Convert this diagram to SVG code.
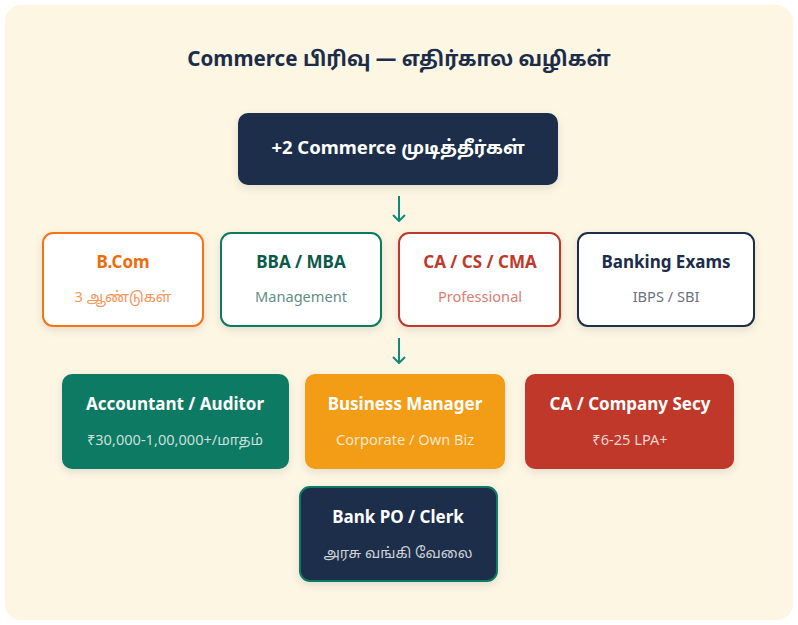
<svg xmlns="http://www.w3.org/2000/svg" width="798" height="625" viewBox="0 0 798 625">
<defs>
<filter id="sh" x="-20%" y="-20%" width="140%" height="150%">
<feDropShadow dx="0" dy="3" stdDeviation="4" flood-color="#000" flood-opacity="0.10"/>
</filter>
<marker id="ah" viewBox="0 0 8 14" refX="7" refY="7" markerWidth="8" markerHeight="14" markerUnits="userSpaceOnUse" orient="auto">
<path d="M1,1 L7,7 L1,13" fill="none" stroke="#0f8a7a" stroke-width="2"/>
</marker>
<style>
text{font-family:"Noto Sans","Noto Sans Tamil","Open Sans",sans-serif;text-anchor:middle}
.t{font-weight:700;font-size:17px}
.s{font-size:14.6px}
.w{fill:#ffffff}
.ws{fill:#ffffff;fill-opacity:0.78}
.arr{stroke:#0f8a7a;stroke-width:2;fill:none}
</style>
</defs>
<rect x="5" y="5" width="788" height="615" rx="16" fill="#fdf6e3"/>
<text x="399" y="66" font-size="20.6" font-weight="700" fill="#1c2d4a">Commerce பிரிவு — எதிர்கால வழிகள்</text>
<g id="start">
<rect x="238" y="113" width="320" height="72" rx="10" fill="#1c2d4a" filter="url(#sh)"/>
<text x="398" y="154" class="w" font-size="18.5" font-weight="700">+2 Commerce முடித்தீர்கள்</text>
</g>
<g id="connectors">
<line x1="399" y1="196" x2="399" y2="221" class="arr" marker-end="url(#ah)"/>
<line x1="399" y1="338" x2="399" y2="363" class="arr" marker-end="url(#ah)"/>
</g>
<g id="bcom">
<rect x="43" y="233" width="160" height="93" rx="10" fill="#ffffff" stroke="#f97316" stroke-width="2" filter="url(#sh)"/>
<text x="123" y="268" class="t" fill="#f06b0a">B.Com</text>
<text x="123" y="302" class="s" fill="#f5965a">3 ஆண்டுகள்</text>
</g>
<g id="bba">
<rect x="221" y="233" width="160" height="93" rx="10" fill="#ffffff" stroke="#0f7a5f" stroke-width="2" filter="url(#sh)"/>
<text x="301" y="268" class="t" fill="#0b5a47">BBA / MBA</text>
<text x="301" y="302" class="s" fill="#5f8f83">Management</text>
</g>
<g id="ca">
<rect x="399" y="233" width="161" height="93" rx="10" fill="#ffffff" stroke="#c0392b" stroke-width="2" filter="url(#sh)"/>
<text x="480" y="268" class="t" fill="#c0392b">CA / CS / CMA</text>
<text x="480" y="302" class="s" fill="#e07b70">Professional</text>
</g>
<g id="banking">
<rect x="578" y="233" width="176" height="93" rx="10" fill="#ffffff" stroke="#1c2d4a" stroke-width="2" filter="url(#sh)"/>
<text x="666" y="268" class="t" fill="#1c2d4a">Banking Exams</text>
<text x="666" y="302" class="s" fill="#6b7280">IBPS / SBI</text>
</g>
<g id="accountant">
<rect x="62" y="374" width="227" height="95" rx="10" fill="#0f7a64" filter="url(#sh)"/>
<text x="175" y="410" class="t w">Accountant / Auditor</text>
<text x="175" y="445" class="s ws">₹30,000-1,00,000+/மாதம்</text>
</g>
<g id="business">
<rect x="305" y="374" width="200" height="95" rx="10" fill="#f39c12" filter="url(#sh)"/>
<text x="405" y="410" class="t w">Business Manager</text>
<text x="405" y="445" class="s ws">Corporate / Own Biz</text>
</g>
<g id="cacs">
<rect x="525" y="374" width="209" height="95" rx="10" fill="#c0392b" filter="url(#sh)"/>
<text x="630" y="410" class="t w">CA / Company Secy</text>
<text x="630" y="445" class="s ws">₹6-25 LPA+</text>
</g>
<g id="bankpo">
<rect x="300" y="487" width="197" height="94" rx="10" fill="#1c2d4a" stroke="#0f7a64" stroke-width="2" filter="url(#sh)"/>
<text x="398" y="523" class="t w">Bank PO / Clerk</text>
<text x="398" y="558" class="s ws">அரசு வங்கி வேலை</text>
</g>
</svg>
